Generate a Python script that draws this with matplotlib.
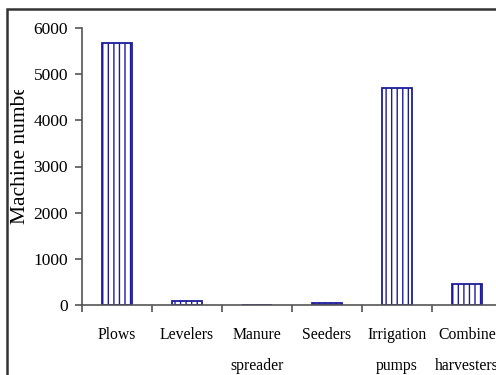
import matplotlib
matplotlib.use('Agg')
import matplotlib.pyplot as plt
from matplotlib.patches import Rectangle
from matplotlib.transforms import Bbox, TransformedBbox
import numpy as np

# machine counts by type
machines = ['Plows', 'Levelers', 'Manure\nspreader', 'Seeders',
            'Irrigation\npumps', 'Combine\nharvesters']
counts = [5680, 90, 0, 40, 4700, 455]
yticks = [0, 1000, 2000, 3000, 4000, 5000, 6000]

plt.rcParams['font.family'] = 'Liberation Serif'
plt.rcParams['hatch.linewidth'] = 1.0

fig = plt.figure(figsize=(4.96, 3.75), dpi=100)
ax = fig.add_axes([82 / 496, 70 / 375, 420 / 496, 277 / 375])

x = np.arange(len(machines))
ax.bar(x, counts, width=0.42, color='white', edgecolor='#1c1c9a',
       linewidth=1.3, hatch='|||')

ax.set_xlim(-0.5, len(machines) - 0.5)
ax.set_ylim(0, 6000)
ax.set_yticks(yticks)
ax.set_yticklabels([str(v) for v in yticks], fontsize=12.5)

# category ticks sit between the groups, labels in the middle
ax.set_xticks(np.arange(len(machines) + 1) - 0.5)
ax.set_xticklabels([])
ax.set_xticks(x, minor=True)
ax.set_xticklabels(machines, minor=True, fontsize=11.3, linespacing=2.2)
ax.tick_params(axis='x', which='minor', length=0, pad=16)
ax.tick_params(axis='x', which='major', length=5, width=1.2, color='#555555')
ax.tick_params(axis='y', length=5, width=1.2, color='#555555', pad=5)

for side in ['top', 'right']:
    ax.spines[side].set_visible(False)
for side in ['left', 'bottom']:
    ax.spines[side].set_color('#555555')
    ax.spines[side].set_linewidth(1.2)

# axis title, clipped at the top of its box
lab = fig.text(21 / 496, 151 / 375, 'Machine number', rotation=90,
               ha='center', va='bottom', fontsize=15.5)
lab.set_clip_on(True)
lab.set_clip_box(TransformedBbox(Bbox([[0, 0], [1, 285 / 375]]),
                                 fig.transFigure))

# outer chart frame
fig.patches.append(Rectangle((7 / 496, -0.2), 1.5, 0.2 + 366 / 375,
                             transform=fig.transFigure, fill=False,
                             edgecolor='#333333', linewidth=1.8))

fig.savefig('out.png', dpi=100)
